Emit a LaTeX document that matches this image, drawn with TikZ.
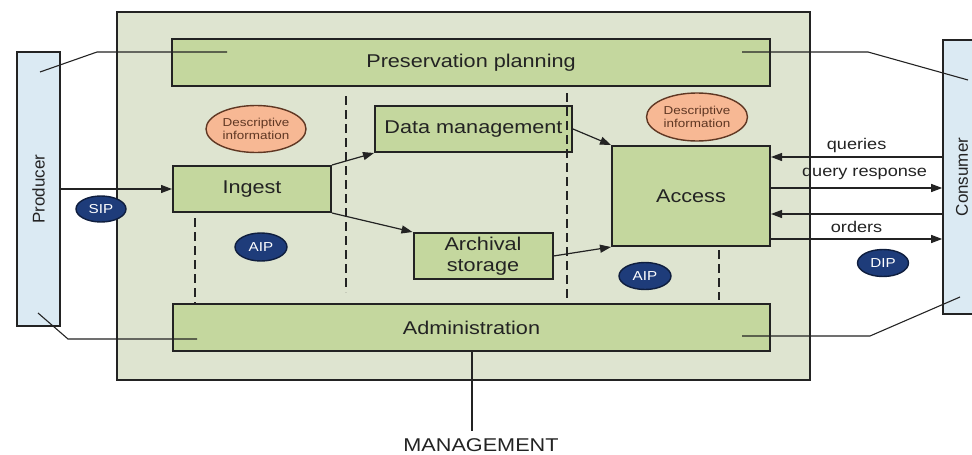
\documentclass[tikz,border=0pt]{standalone}
\usepackage{fontspec}
\setmainfont{Liberation Sans}[FakeStretch=1.17]
\newfontfamily\sidefont{Liberation Sans}
\usetikzlibrary{arrows.meta,shapes.geometric}

\definecolor{archivebg}{RGB}{222,228,208}
\definecolor{modulegreen}{RGB}{196,215,158}
\definecolor{actorblue}{RGB}{219,234,243}
\definecolor{descfill}{RGB}{247,184,148}
\definecolor{descline}{RGB}{95,55,35}
\definecolor{pkgblue}{RGB}{30,60,122}
\definecolor{pkgline}{RGB}{15,30,62}
\definecolor{linegray}{RGB}{35,35,35}

\tikzset{
	module/.style = { draw = linegray , line width = 2pt , fill = modulegreen , inner sep = 0pt , text = linegray , font = \fontsize{18.5}{21}\selectfont , align = center },
	actor/.style = { draw = linegray , line width = 1.6pt , fill = actorblue , inner sep = 0pt , text = linegray , font = \sidefont\fontsize{17}{20}\selectfont },
	descinfo/.style = { ellipse , draw = descline , line width = 1.4pt , fill = descfill , inner sep = 0pt , text = descline , font = \fontsize{11.5}{13}\selectfont , align = center },
	pkg/.style = { ellipse , draw = pkgline , line width = 1.4pt , fill = pkgblue , inner sep = 0pt , text = white , font = \fontsize{13}{15}\selectfont },
	flow/.style = { draw = linegray , line width = 1.2pt , -{Triangle[length=11pt,width=8pt]} },
	link/.style = { draw = linegray , line width = 1.1pt },
	divider/.style = { draw = linegray , line width = 1.5pt , dash pattern = on 9pt off 5pt },
	flowlabel/.style = { text = linegray , font = \fontsize{15.5}{18}\selectfont , inner sep = 0pt }
}

\begin{document}
\begin{tikzpicture}[x = 1pt , y = -1pt]
	\useasboundingbox (0,0) rectangle (972,455);
	\clip (0,0) rectangle (972,455);

	\node[draw = linegray , line width = 2pt , fill = archivebg , minimum width = 693pt , minimum height = 368pt , inner sep = 0pt] (archive) at (463.5,196) {};
	\node[actor , minimum width = 43pt , minimum height = 274pt] (producer) at (38.5,189) {\rotatebox{90}{Producer}};
	\node[actor , minimum width = 38pt , minimum height = 274pt] (consumer) at (962,177) {\rotatebox{90}{Consumer}};

	\node[module , minimum width = 598pt , minimum height = 47pt] (planning) at (471,62.5) {Preservation planning};
	\node[module , minimum width = 597pt , minimum height = 47pt] (admin) at (471.5,327.5) {Administration};
	\node[module , minimum width = 158pt , minimum height = 46pt] (ingest) at (252,189) {Ingest};
	\node[module , minimum width = 197pt , minimum height = 46pt] (datamgmt) at (473.5,129) {Data management};
	\node[module , minimum width = 139pt , minimum height = 46pt] (archival) at (483,256) {Archival\\storage};
	\node[module , minimum width = 158pt , minimum height = 100pt] (access) at (691,196) {Access};

	\node[descinfo , minimum width = 100pt , minimum height = 47pt] (descleft) at (256,129) {Descriptive\\information};
	\node[descinfo , minimum width = 101pt , minimum height = 48pt] (descright) at (697,117) {Descriptive\\information};
	\node[pkg , minimum width = 50pt , minimum height = 26pt] (sip) at (101,209) {SIP};
	\node[pkg , minimum width = 52pt , minimum height = 28pt] (aipleft) at (261,247) {AIP};
	\node[pkg , minimum width = 52pt , minimum height = 27pt] (aipright) at (645,276) {AIP};
	\node[pkg , minimum width = 51pt , minimum height = 27pt] (dip) at (883,263) {DIP};

	\draw[divider] (195,218) -- (195,303);
	\draw[divider] (346,96) -- (346,292);
	\draw[divider] (567,93) -- (567,298);
	\draw[divider] (719,250) -- (719,300);

	\draw[flow] (producer.east |- ingest.west) -- (ingest.west);
	\draw[flow] (ingest.north east) -- (datamgmt.south west);
	\draw[flow] (ingest.south east) -- (archival.north west);
	\draw[flow] (datamgmt.east) -- (access.north west);
	\draw[flow] (archival.east) -- (access.south west);

	\coordinate (queryin) at ([yshift = 39pt]access.east);
	\coordinate (responseout) at ([yshift = 8pt]access.east);
	\coordinate (orderin) at ([yshift = -18pt]access.east);
	\coordinate (dipout) at ([yshift = -43pt]access.east);
	\draw[flow] (consumer.west |- queryin) -- (queryin) node[flowlabel , midway , above = 4pt] {queries};
	\draw[flow] (responseout) -- (consumer.west |- responseout) node[flowlabel , midway , above = 8pt , xshift = 8pt] {query response};
	\draw[flow] (consumer.west |- orderin) -- (orderin);
	\draw[flow] (dipout) -- (consumer.west |- dipout) node[flowlabel , midway , above = 6pt] {orders};

	\coordinate (prodtop) at (40,72);
	\coordinate (plantop) at (227,52);
	\coordinate (planright) at (742,52);
	\coordinate (constop) at (968,80);
	\coordinate (prodbottom) at (38,313);
	\coordinate (adminleft) at (197,339);
	\coordinate (adminright) at (742,336);
	\coordinate (consbottom) at (960,297);
	\draw[link] (prodtop) -- (97,52) -- (plantop);
	\draw[link] (planright) -- (868,52) -- (constop);
	\draw[link] (prodbottom) -- (68,339) -- (adminleft);
	\draw[link] (adminright) -- (870,336) -- (consbottom);

	\node[flowlabel , font = \fontsize{18.5}{21}\selectfont , anchor = base] (management) at (481,451) {MANAGEMENT};
	\coordinate (mgmttop) at (472,431);
	\draw[link] (admin.south -| mgmttop) -- (mgmttop);
\end{tikzpicture}
\end{document}
